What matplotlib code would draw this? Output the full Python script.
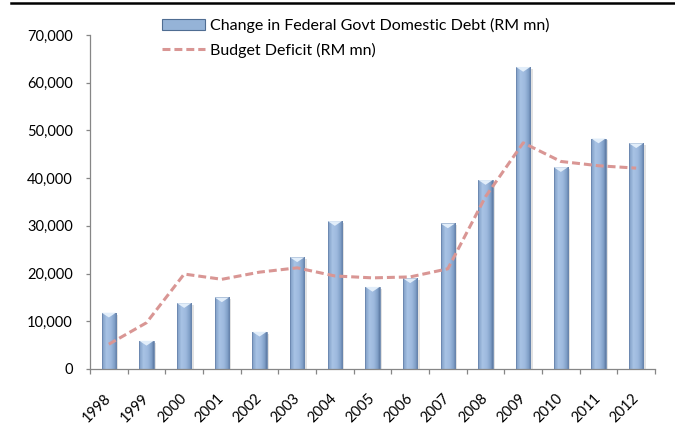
import numpy as np
import matplotlib.pyplot as plt
from matplotlib.colors import LinearSegmentedColormap
from matplotlib.lines import Line2D
from matplotlib.patches import Polygon, Rectangle
from matplotlib.ticker import FuncFormatter, MultipleLocator
from matplotlib.transforms import ScaledTranslation

plt.rcParams['font.family'] = ['Lato', 'DejaVu Sans']

years = [str(y) for y in range(1998, 2013)]
# RM mn
debt_change = [11800, 5900, 13800, 15000, 7800, 23400, 31000, 17200,
               19000, 30500, 39600, 63300, 42300, 48300, 47300]
budget_deficit = [5200, 9700, 19900, 18800, 20300, 21200, 19500, 19100,
                  19300, 21000, 36100, 47400, 43500, 42600, 42100]

fs = 10.5
fig = plt.figure(figsize=(6.75, 4.37), dpi=100)
ax = fig.add_axes([90/675, 68/437, 565/675, 334/437])

x = np.arange(len(years))
bw = 0.38
bars = ax.bar(x, debt_change, width=bw, facecolor='none',
              edgecolor='#6A86AE', linewidth=0.6, zorder=3)

# shaded cylinder look for the bars
cmap = LinearSegmentedColormap.from_list('bar', [
    (0.0, '#7D9BC3'), (0.3, '#A8C3E5'), (0.6, '#9DB9DE'),
    (0.85, '#809FC8'), (1.0, '#5C7AA3')])
grad = np.linspace(0, 1, 64).reshape(1, -1)
cap = 1000
for rect, v in zip(bars, debt_change):
    x0, w = rect.get_x(), rect.get_width()
    ax.add_patch(Rectangle((x0 + w, 0), 0.06, v - 400, facecolor='#CFCFCF',
                           alpha=0.6, lw=0, zorder=1))
    im = ax.imshow(grad, cmap=cmap, extent=(x0, x0 + w, 0, v),
                   aspect='auto', origin='lower', zorder=2)
    im.set_clip_path(rect)
    ax.add_patch(Polygon([(x0, v), (x0 + w, v), (x0 + w / 2, v - cap)],
                         closed=True, facecolor='#E2EEFA', lw=0, zorder=3))

ax.plot(x, budget_deficit, color='#D99694', lw=2.2, dashes=(2.6, 1.3),
        zorder=4)

ax.set_xlim(-0.5, len(years) - 0.5)
ax.set_ylim(0, 70000)
ax.yaxis.set_major_locator(MultipleLocator(10000))
ax.yaxis.set_major_formatter(FuncFormatter(lambda v, p: f'{v:,.0f}'))

for s in ['top', 'right']:
    ax.spines[s].set_visible(False)
for s in ['left', 'bottom']:
    ax.spines[s].set_color('#868686')
    ax.spines[s].set_linewidth(0.9)

ax.set_xticks(x)
ax.set_xticklabels(years, rotation=45, ha='right', va='center',
                   rotation_mode='anchor', fontsize=fs)
shift = ScaledTranslation(6/100, 0, fig.dpi_scale_trans)
for lbl in ax.get_xticklabels():
    lbl.set_transform(lbl.get_transform() + shift)
ax.set_xticks(np.arange(-0.5, len(years)), minor=True)
ax.tick_params(axis='x', which='major', length=0, pad=19.5)
ax.tick_params(axis='x', which='minor', length=3.6, color='#868686',
               width=0.9)
ax.tick_params(axis='y', length=2.9, color='#868686', width=0.9,
               pad=9.4, labelsize=fs)

handles = [Rectangle((0, 0), 1, 1, facecolor='#95B3D7', edgecolor='#4F6D92',
                     lw=0.8),
           Line2D([], [], color='#D99694', lw=2.2, dashes=(2.6, 1.3))]
labels = ['Change in Federal Govt Domestic Debt (RM mn)',
          'Budget Deficit (RM mn)']
fig.legend(handles, labels, loc='upper left',
           bbox_to_anchor=(162/675, 1 - 18/437), frameon=False,
           fontsize=11.5, handlelength=2.7, handleheight=0.7,
           handletextpad=0.28, labelspacing=0.6, borderpad=0,
           borderaxespad=0)

# rule along the top edge
fig.add_artist(Line2D([11/675, 1], [1 - 3/437, 1 - 3/437], color='black',
                      lw=1.8, transform=fig.transFigure))

fig.savefig('out.png', dpi=100)
